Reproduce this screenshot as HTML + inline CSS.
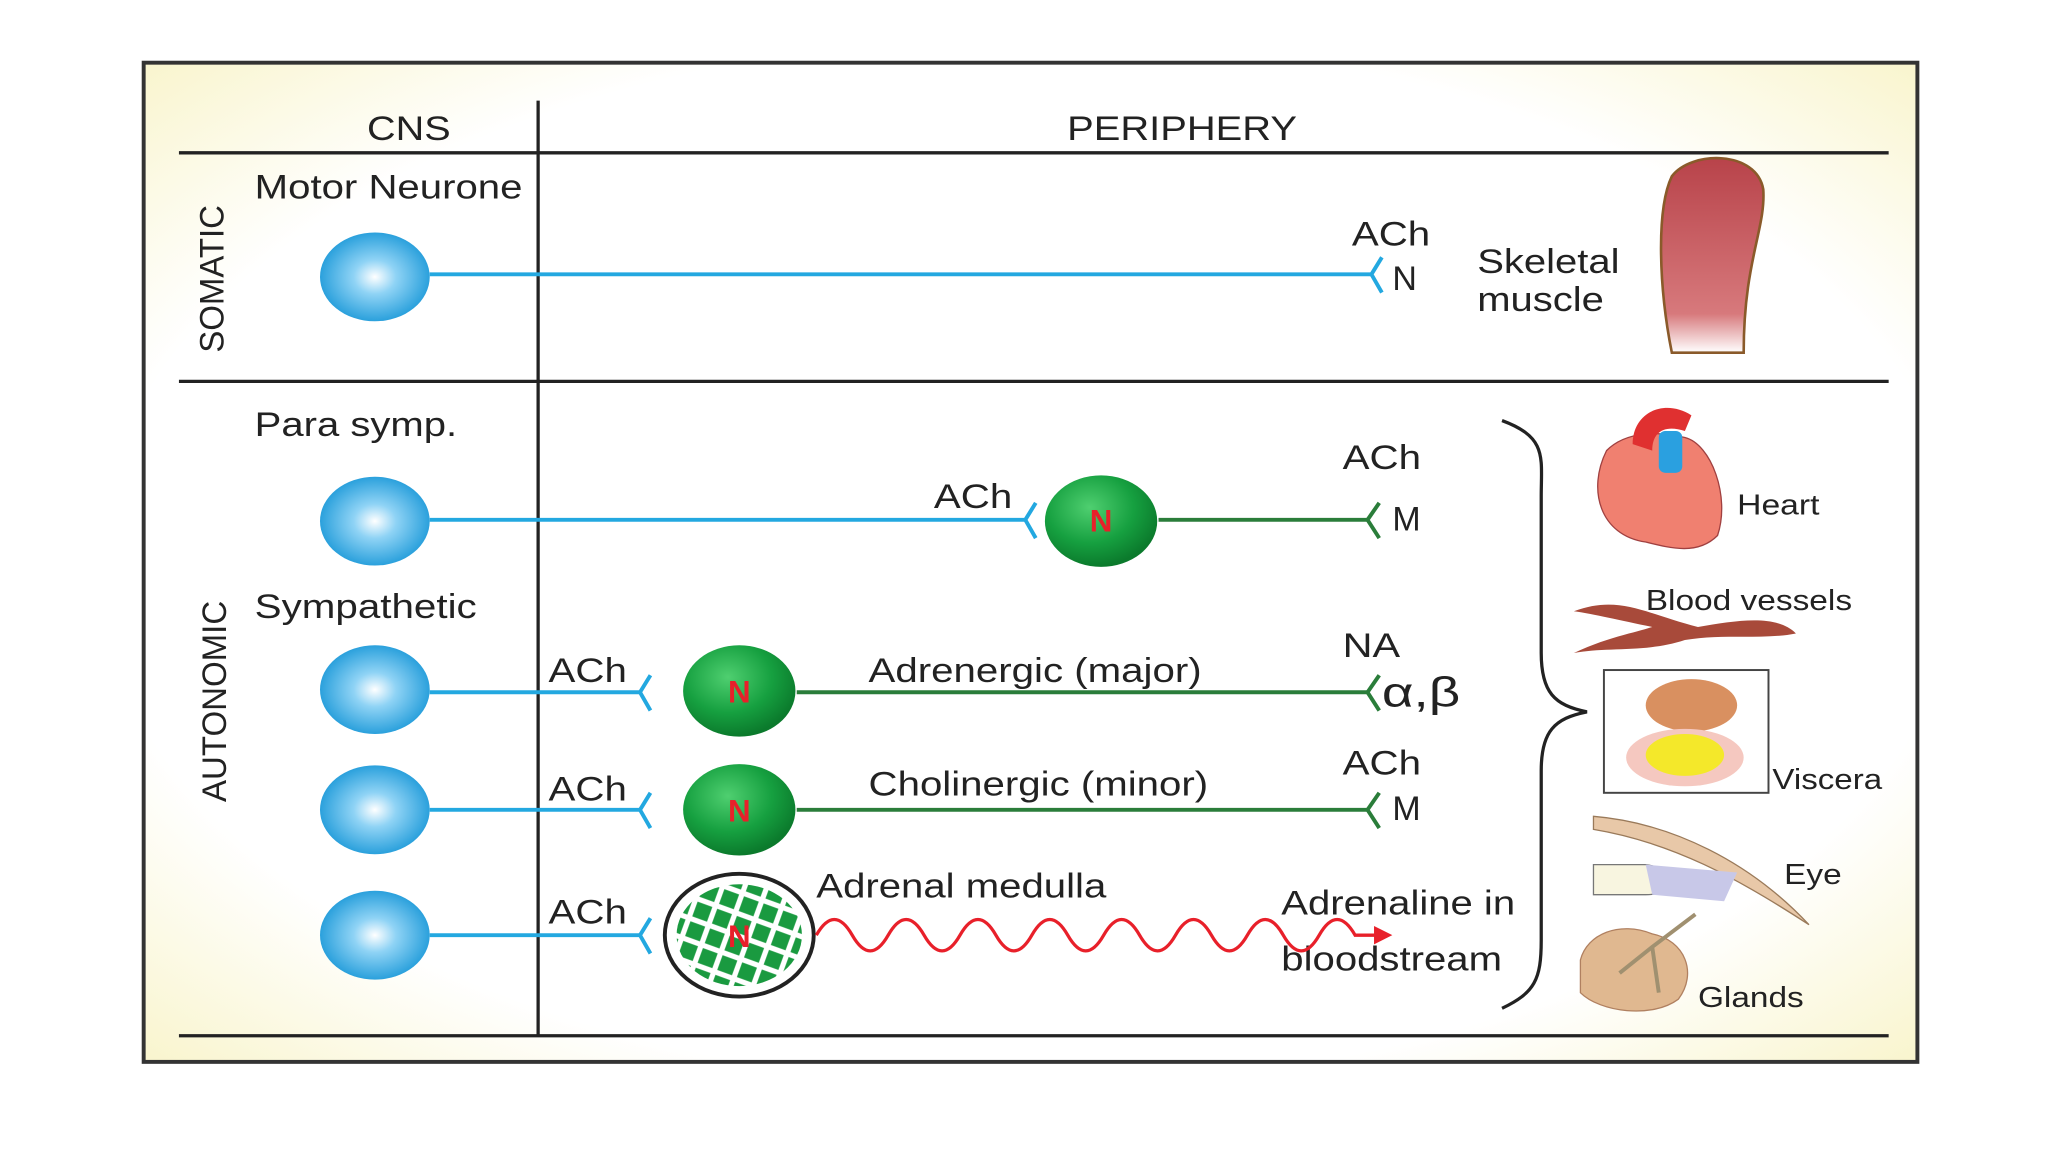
<!DOCTYPE html>
<html><head><meta charset="utf-8"><style>
html,body{margin:0;padding:0;background:#fff;}
svg{display:block;}
text{font-family:"Liberation Sans",Arial,sans-serif;fill:#222;}
</style></head><body>
<svg width="2048" height="1152" viewBox="0 0 1568 882" xmlns="http://www.w3.org/2000/svg">
<defs>
<radialGradient id="bg" cx="50%" cy="50%" r="70%">
<stop offset="0.75" stop-color="#ffffff"/><stop offset="1" stop-color="#f9f5cf"/></radialGradient>
<radialGradient id="blue" cx="50%" cy="50%" r="55%">
<stop offset="0" stop-color="#ffffff"/><stop offset="0.35" stop-color="#8fd3f5"/><stop offset="1" stop-color="#1a98d8"/></radialGradient>
<radialGradient id="green" cx="40%" cy="35%" r="65%">
<stop offset="0" stop-color="#4fcf70"/><stop offset="0.6" stop-color="#16a040"/><stop offset="1" stop-color="#0b7a2c"/></radialGradient>
<pattern id="hatch" width="16" height="16" patternUnits="userSpaceOnUse" patternTransform="rotate(20)">
<rect width="16" height="16" fill="#ffffff"/><rect x="2" y="2" width="12" height="12" fill="#1a9a40"/></pattern>
<linearGradient id="musc" x1="0" y1="0" x2="0" y2="1"><stop offset="0" stop-color="#b8434a"/><stop offset="0.8" stop-color="#d7797c"/><stop offset="1" stop-color="#fff"/></linearGradient>
</defs>
<rect x="110" y="48" width="1358" height="765" fill="url(#bg)" stroke="#333" stroke-width="3"/>
<g stroke="#222" stroke-width="2.5">
<line x1="137" y1="117" x2="1446" y2="117"/>
<line x1="137" y1="292" x2="1446" y2="292"/>
<line x1="137" y1="793" x2="1446" y2="793"/>
<line x1="412" y1="77" x2="412" y2="793"/>
</g>
<g font-size="26" lengthAdjust="spacingAndGlyphs">
<text x="281" y="107" textLength="64" lengthAdjust="spacingAndGlyphs">CNS</text>
<text x="817" y="107" textLength="176" lengthAdjust="spacingAndGlyphs">PERIPHERY</text>
<text transform="translate(171,270) rotate(-90)" textLength="113" lengthAdjust="spacingAndGlyphs">SOMATIC</text>
<text transform="translate(173,614) rotate(-90)" textLength="154" lengthAdjust="spacingAndGlyphs">AUTONOMIC</text>
<text x="195" y="152" textLength="205" lengthAdjust="spacingAndGlyphs">Motor Neurone</text>
<text x="195" y="334" textLength="155" lengthAdjust="spacingAndGlyphs">Para symp.</text>
<text x="195" y="473" textLength="170" lengthAdjust="spacingAndGlyphs">Sympathetic</text>
<text x="1035" y="188" textLength="60" lengthAdjust="spacingAndGlyphs">ACh</text><text x="1066" y="222">N</text>
<text x="1131" y="209" textLength="109" lengthAdjust="spacingAndGlyphs">Skeletal</text><text x="1131" y="238" textLength="97" lengthAdjust="spacingAndGlyphs">muscle</text>
<text x="715" y="389" textLength="60" lengthAdjust="spacingAndGlyphs">ACh</text>
<text x="1028" y="359" textLength="60" lengthAdjust="spacingAndGlyphs">ACh</text><text x="1066" y="406">M</text>
<text x="420" y="522" textLength="60" lengthAdjust="spacingAndGlyphs">ACh</text>
<text x="665" y="522" textLength="255" lengthAdjust="spacingAndGlyphs">Adrenergic (major)</text>
<text x="1028" y="503" textLength="44" lengthAdjust="spacingAndGlyphs">NA</text>
<text x="1058" y="541" font-family="Liberation Serif,serif" font-size="32" textLength="60" lengthAdjust="spacingAndGlyphs">α,β</text>
<text x="420" y="613" textLength="60" lengthAdjust="spacingAndGlyphs">ACh</text>
<text x="665" y="609" textLength="260" lengthAdjust="spacingAndGlyphs">Cholinergic (minor)</text>
<text x="1028" y="593" textLength="60" lengthAdjust="spacingAndGlyphs">ACh</text><text x="1066" y="628">M</text>
<text x="420" y="707" textLength="60" lengthAdjust="spacingAndGlyphs">ACh</text>
<text x="625" y="687" textLength="222" lengthAdjust="spacingAndGlyphs">Adrenal medulla</text>
<text x="981" y="700" textLength="179" lengthAdjust="spacingAndGlyphs">Adrenaline in</text>
<text x="981" y="743" textLength="169" lengthAdjust="spacingAndGlyphs">bloodstream</text>
</g>
<g font-size="22">
<text x="1330" y="394" textLength="63" lengthAdjust="spacingAndGlyphs">Heart</text>
<text x="1260" y="467" textLength="158" lengthAdjust="spacingAndGlyphs">Blood vessels</text>
<text x="1357" y="604" textLength="84" lengthAdjust="spacingAndGlyphs">Viscera</text>
<text x="1366" y="677" textLength="44" lengthAdjust="spacingAndGlyphs">Eye</text>
<text x="1300" y="771" textLength="81" lengthAdjust="spacingAndGlyphs">Glands</text>
</g>
<g stroke="#23a8e0" stroke-width="3" fill="none">
<line x1="329" y1="210" x2="1050" y2="210"/><path d="M1058,197 L1050,210 L1058,224"/>
<line x1="329" y1="398" x2="785" y2="398"/><path d="M793,385 L785,398 L793,412"/>
<line x1="329" y1="530" x2="490" y2="530"/><path d="M498,517 L490,530 L498,544"/>
<line x1="329" y1="620" x2="490" y2="620"/><path d="M498,607 L490,620 L498,634"/>
<line x1="329" y1="716" x2="490" y2="716"/><path d="M498,703 L490,716 L498,730"/>
</g>
<g stroke="#2a7d3a" stroke-width="3" fill="none">
<line x1="887" y1="398" x2="1047" y2="398"/><path d="M1056,385 L1047,398 L1056,412"/>
<line x1="610" y1="530" x2="1047" y2="530"/><path d="M1056,517 L1047,530 L1056,544"/>
<line x1="610" y1="620" x2="1047" y2="620"/><path d="M1056,607 L1047,620 L1056,634"/>
</g>
<g fill="url(#blue)">
<ellipse cx="287" cy="212" rx="42" ry="34"/><ellipse cx="287" cy="399" rx="42" ry="34"/>
<ellipse cx="287" cy="528" rx="42" ry="34"/><ellipse cx="287" cy="620" rx="42" ry="34"/>
<ellipse cx="287" cy="716" rx="42" ry="34"/>
</g>
<g fill="url(#green)">
<ellipse cx="843" cy="399" rx="43" ry="35"/><ellipse cx="566" cy="529" rx="43" ry="35"/><ellipse cx="566" cy="620" rx="43" ry="35"/>
</g>
<ellipse cx="566" cy="716" rx="57" ry="47" fill="#fff" stroke="#222" stroke-width="3"/>
<ellipse cx="566" cy="716" rx="48" ry="39" fill="url(#hatch)"/>
<g font-size="24" font-weight="bold" text-anchor="middle">
<text x="843" y="407" style="fill:#e8202a">N</text><text x="566" y="538" style="fill:#e8202a">N</text>
<text x="566" y="629" style="fill:#e8202a">N</text><text x="566" y="725" style="fill:#e8202a">N</text>
</g>
<path d="M625,716 q13.75,-24 27.5,0 t27.5,0 t27.5,0 t27.5,0 t27.5,0 t27.5,0 t27.5,0 t27.5,0 t27.5,0 t27.5,0 t27.5,0 t27.5,0 t27.5,0 t27.5,0 t27.5,0 L1055,716" fill="none" stroke="#e8202a" stroke-width="2.5"/>
<path d="M1052,709 L1066,716 L1052,723 Z" fill="#e8202a"/>
<path d="M1150,322 C1185,335 1180,350 1180,380 L1180,500 C1180,530 1190,540 1215,545 C1190,550 1180,560 1180,590 L1180,720 C1180,750 1175,760 1150,772" fill="none" stroke="#222" stroke-width="2.5"/>
<path d="M1280,270 C1270,220 1268,160 1280,135 C1295,115 1345,115 1350,145 C1352,175 1335,200 1335,270 Z" fill="url(#musc)" stroke="#8a5a2a" stroke-width="2"/>
<path d="M1230,345 C1215,375 1225,410 1260,415 C1280,420 1300,425 1315,410 C1325,380 1310,340 1290,335 C1270,330 1245,330 1230,345 Z" fill="#f08070" stroke="#a04040"/>
<path d="M1250,340 C1250,315 1275,305 1295,318 L1290,330 C1275,325 1265,330 1265,345 Z" fill="#e03030"/>
<rect x="1270" y="330" width="18" height="32" rx="5" fill="#2aa0e0"/>
<path d="M1205,468 C1240,455 1260,470 1300,480 C1330,475 1360,470 1375,485 C1350,490 1320,485 1290,490 C1260,500 1230,495 1205,500 C1230,488 1250,485 1265,480 C1240,475 1220,470 1205,468 Z" fill="#a84a3a"/>
<rect x="1228" y="513" width="126" height="94" fill="#fff" stroke="#444" stroke-width="1.5"/>
<ellipse cx="1295" cy="540" rx="35" ry="20" fill="#d99060"/>
<ellipse cx="1290" cy="580" rx="45" ry="22" fill="#f5c8c0"/>
<ellipse cx="1290" cy="578" rx="30" ry="16" fill="#f4e82a"/>
<path d="M1220,625 C1280,630 1340,660 1385,708 C1330,672 1280,645 1220,635 Z" fill="#e8c8a8" stroke="#9a7a5a"/>
<path d="M1220,662 L1260,662 C1285,665 1285,685 1260,685 L1220,685 Z" fill="#f8f5e0" stroke="#777"/>
<path d="M1260,662 L1330,668 L1320,690 L1265,685 Z" fill="#c8c8e8"/>
<path d="M1210,735 C1215,715 1240,705 1265,715 C1290,720 1300,745 1285,765 C1265,780 1225,775 1210,760 Z" fill="#e0b890" stroke="#b08060"/>
<path d="M1240,745 L1265,725 L1298,700 M1265,725 L1270,760" stroke="#a09070" stroke-width="3" fill="none"/>
</svg>
</body></html>
